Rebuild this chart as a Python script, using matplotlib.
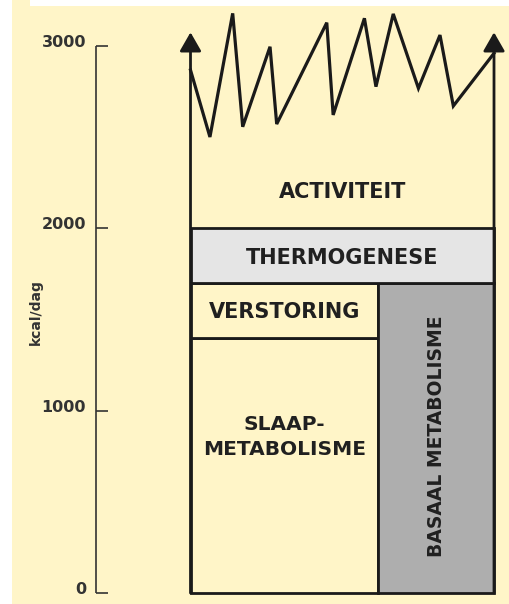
import matplotlib.pyplot as plt
from matplotlib.patches import Rectangle

# --- data ---
ticks = [0, 1000, 2000, 3000]
unit_label = "kcal/dag"

# stacked blocks: (label, x0, x1, bottom, top, fill)
blocks = [
    ("SLAAP-\nMETABOLISME", 0.0, 0.618, 0, 1400, "#FFF5C8"),
    ("VERSTORING", 0.0, 0.618, 1400, 1700, "#FFF5C8"),
    ("BASAAL METABOLISME", 0.618, 1.0, 0, 1700, "#AEAEAE"),
    ("THERMOGENESE", 0.0, 1.0, 1700, 2000, "#E5E5E5"),
]
activity_label = "ACTIVITEIT"
activity_base = 2000

# zigzag top of the activity block
zig_x = [0.0, 0.064, 0.139, 0.172, 0.262, 0.284, 0.449, 0.470,
         0.573, 0.611, 0.668, 0.751, 0.822, 0.866, 1.0]
zig_y = [2868, 2501, 3179, 2557, 2996, 2572, 3128, 2622,
         3152, 2777, 3176, 2768, 3060, 2671, 2960]
arrow_top = 3075

bg = "#FFF5C8"
ink = "#1a1a1a"
txt = "#202020"

W, H = 509, 604
fig = plt.figure(figsize=(W / 100, H / 100), dpi=100, facecolor="white")

ax = fig.add_axes([0, 0, 1, 1])
ax.patch.set_alpha(0)
ax.set_xlim(-0.6277, 1.0494)
ax.set_ylim(-60.3, 3252.3)
ax.axis("off")

# yellow page background with white margins top/left
ax.add_patch(Rectangle((12 / W, 0), 1, (H - 6) / H, transform=fig.transFigure,
                       facecolor=bg, edgecolor="none", zorder=0, clip_on=False))
ax.add_patch(Rectangle((12 / W, (H - 6) / H), 18 / W, 6 / H, transform=fig.transFigure,
                       facecolor=bg, edgecolor="none", zorder=0, clip_on=False))

# --- y scale drawn by hand ---
ax_x = -0.311
tick_len = 0.04
ax.plot([ax_x, ax_x], [ticks[0], ticks[-1]], color="#333333", lw=1.2, solid_capstyle="butt")
for t in ticks:
    ax.plot([ax_x, ax_x + tick_len], [t, t], color="#333333", lw=1.2, solid_capstyle="butt")
    ax.text(ax_x - 0.033, t + 20, str(t), ha="right", va="center",
            fontsize=11.5, fontweight="bold", color="#333333")
ax.text(-0.511, 1540, unit_label, rotation=90, ha="center", va="center",
        fontsize=10, fontweight="bold", color="#333333")

# --- blocks ---
for label, x0, x1, b, t, fc in blocks:
    ax.add_patch(Rectangle((x0, b), x1 - x0, t - b, facecolor=fc,
                           edgecolor=ink, lw=2.0, zorder=2))
    if label.startswith("BASAAL"):
        ax.text((x0 + x1) / 2, (b + t) / 2 + 10, label, rotation=90, ha="center", va="center",
                fontsize=13.5, fontweight="bold", color=txt, zorder=3)
    elif "\n" in label:
        ax.text((x0 + x1) / 2, 855, label, ha="center", va="center", linespacing=1.4,
                fontsize=14.5, fontweight="bold", color=txt, zorder=3)
    else:
        ax.text((x0 + x1) / 2, (b + t) / 2 - 10, label, ha="center", va="center",
                fontsize=15, fontweight="bold", color=txt, zorder=3)

ax.text(0.5, 2200, activity_label, ha="center", va="center",
        fontsize=15, fontweight="bold", color=txt, zorder=3)

# activity: open sides with arrows, zigzag top
for xs in (0.0, 1.0):
    ax.annotate("", xy=(xs, arrow_top), xytext=(xs, 0),
                arrowprops=dict(arrowstyle="-|>,head_length=1.15,head_width=0.66",
                                lw=2.0, color=ink, shrinkA=0, shrinkB=0), zorder=4)
ax.plot(zig_x, zig_y, color=ink, lw=2.3, solid_joinstyle="miter", zorder=4)

fig.savefig("out.png", dpi=100, facecolor="white")
